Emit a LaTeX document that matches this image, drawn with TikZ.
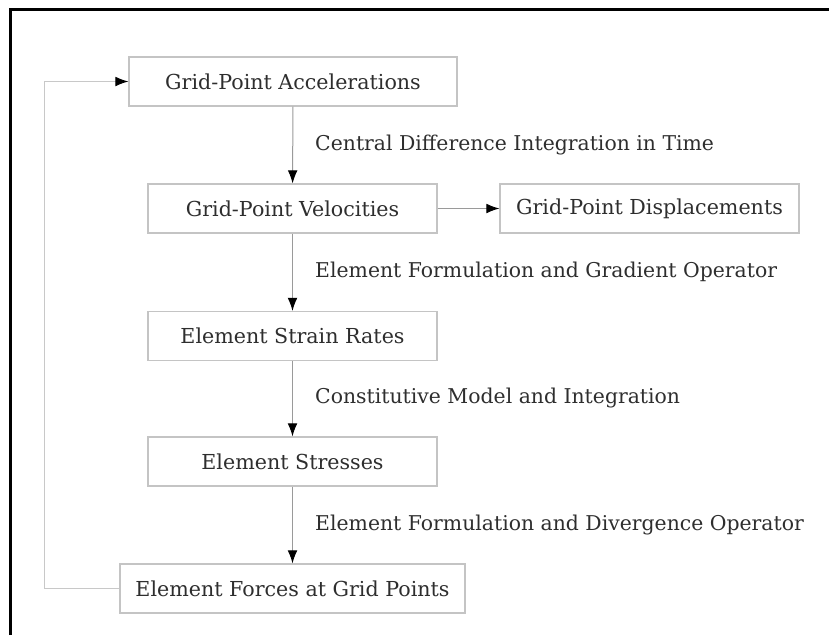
\documentclass[tikz,border=0pt]{standalone}
\usepackage{fontspec}
\setmainfont{DejaVu Serif}
\usetikzlibrary{arrows.meta,positioning}
\definecolor{grisborde}{HTML}{C4C4C4}
\definecolor{grislinea}{HTML}{9A9A9A}
\definecolor{grislazo}{HTML}{C8C8C8}
\definecolor{gristexto}{HTML}{2E2E2E}
\tikzset{
  bloque/.style={draw=grisborde, line width=0.35mm, text=gristexto, inner sep=0pt,
    minimum height=14.7mm, font=\fontsize{17.6}{20}\selectfont},
  flecha/.style={draw=grislinea, line width=0.3mm, -{Latex[length=3.9mm,width=2.9mm,black]}},
  etiqueta/.style={anchor=west, text=gristexto, inner sep=0pt, font=\fontsize{17.4}{20}\selectfont}
}

\begin{document}
\begin{tikzpicture}[x=0.3mm, y=-0.3mm]
        \useasboundingbox (0,0) rectangle (829,635);
        % marco
        \draw[line width=0.9mm, black] (10,635) -- (10,9) -- (829,9);

        % bloques del ciclo
        \node[bloque, minimum width=98.4mm] (acc) at (293,81.5) {Grid-Point Accelerations};
        \node[bloque, minimum width=86.7mm] (vel) at (292.5,208.5) {Grid-Point Velocities};
        \node[bloque, minimum width=89.7mm] (disp) at (649.5,208.5) {Grid-Point Displacements};
        \node[bloque, minimum width=86.7mm] (rates) at (292.5,336) {Element Strain Rates};
        \node[bloque, minimum width=86.7mm] (stress) at (292.5,461.5) {Element Stresses};
        \node[bloque, minimum width=103.5mm] (forces) at (292.5,588.5) {Element Forces at Grid Points};

        % operaciones entre bloques
        \node[etiqueta] (lbl1) at (315,145) {Central Difference Integration in Time};
        \node[etiqueta] (lbl2) at (315,272) {Element Formulation and Gradient Operator};
        \node[etiqueta] (lbl3) at (315,398) {Constitutive Model and Integration};
        \node[etiqueta] (lbl4) at (315,525) {Element Formulation and Divergence Operator};

        \draw[flecha] (acc) -- (vel);
        \draw[flecha] (vel) -- (disp);
        \draw[flecha] (vel) -- (rates);
        \draw[flecha] (rates) -- (stress);
        \draw[flecha] (stress) -- (forces);

        % lazo de vuelta
        \draw[flecha, draw=grislazo] (forces.west) -- ++(-75,0) |- (acc.west);
      \end{tikzpicture}
\end{document}
